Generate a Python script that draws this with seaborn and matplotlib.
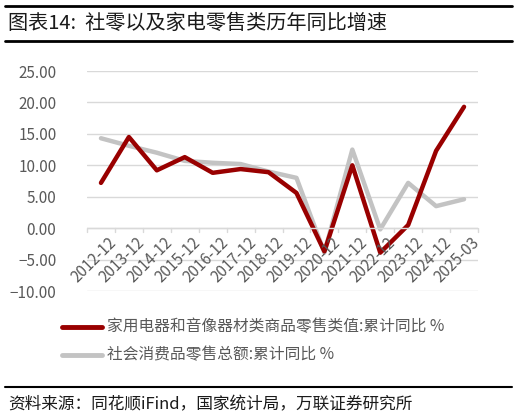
import matplotlib
matplotlib.use("Agg")
import matplotlib.pyplot as plt
import pandas as pd
import seaborn as sns
from matplotlib.lines import Line2D

periods = ["2012-12", "2013-12", "2014-12", "2015-12", "2016-12", "2017-12", "2018-12",
           "2019-12", "2020-12", "2021-12", "2022-12", "2023-12", "2024-12", "2025-03"]
appliance = [7.2, 14.5, 9.2, 11.3, 8.8, 9.4, 8.9, 5.6, -3.7, 10.0, -3.9, 0.5, 12.3, 19.3]
retail_total = [14.3, 13.1, 12.0, 10.7, 10.4, 10.2, 9.0, 8.0, -3.9, 12.5, -0.2, 7.2, 3.5, 4.6]
yticks = [25, 20, 15, 10, 5, 0, -5, -10]

name_a = "家用电器和音像器材类商品零售类值:累计同比 %"
name_b = "社会消费品零售总额:累计同比 %"
red = "#990000"
grey = "#C3C3C3"

sns.set_theme(style="white")
plt.rcParams["font.family"] = ["Noto Sans CJK SC", "DejaVu Sans"]

df = pd.DataFrame({"period": periods, name_a: appliance, name_b: retail_total})
long = df.melt(id_vars="period", var_name="series", value_name="value")

fig = plt.figure(figsize=(5.17, 4.18), dpi=100)
ax = fig.add_axes([87 / 517, 1 - 291 / 418, (478 - 87) / 517, (291 - 71) / 418])

sns.lineplot(data=long, x="period", y="value", hue="series", sort=False,
             palette={name_a: red, name_b: grey}, hue_order=[name_b, name_a],
             linewidth=3.2, legend=False, ax=ax)

ax.set_xlim(-0.5, len(periods) - 0.5)
ax.set_ylim(-10, 25)
ax.set_yticks(yticks)
ax.set_yticklabels([f"{v:.2f}".replace("-", "−") for v in yticks], color="#595959", fontsize=11)
ax.yaxis.grid(True, color="#D9D9D9", linewidth=1)
ax.set_xlabel("")
ax.set_ylabel("")
for s in ax.spines.values():
    s.set_visible(False)
ax.tick_params(axis="y", length=0, pad=22)

# category ticks sit on the zero line, labels rotated
ax.set_xticks(range(len(periods)))
ax.set_xticklabels([])
ax.tick_params(axis="x", length=0)
ax.axhline(0, color="#D9D9D9", linewidth=1)
for i in range(len(periods) + 1):
    ax.plot([i - 0.5, i - 0.5], [0, -0.6], color="#D9D9D9", linewidth=1, clip_on=False)
for i, p in enumerate(periods):
    ax.text(i + 0.25, -0.9, p, rotation=45, ha="right", va="top",
            rotation_mode="anchor", fontsize=11, color="#595959")

# title band
fig.add_artist(Line2D([5 / 517, 512 / 517], [1 - 6 / 418, 1 - 6 / 418], color="black", linewidth=2))
fig.add_artist(Line2D([5 / 517, 512 / 517], [1 - 41 / 418, 1 - 41 / 418], color="black", linewidth=2))
fig.text(8 / 517, 1 - 23 / 418, "图表14:  社零以及家电零售类历年同比增速", fontsize=14.5,
         va="center", ha="left", color="#1a1a1a")

# legend
for y, c, n in [(327, red, name_a), (355, grey, name_b)]:
    fig.add_artist(Line2D([62 / 517, 102 / 517], [1 - y / 418, 1 - y / 418], color=c,
                          linewidth=3.5, solid_capstyle="round"))
    fig.text(107 / 517, 1 - y / 418, n, fontsize=11.3, va="center", ha="left", color="#595959")

# source
fig.add_artist(Line2D([5 / 517, 512 / 517], [1 - 387 / 418, 1 - 387 / 418], color="black", linewidth=1.5))
fig.text(8 / 517, 1 - 405 / 418, "资料来源：同花顺iFind，国家统计局，万联证券研究所", fontsize=12,
         va="center", ha="left", style="italic", color="#1a1a1a")

fig.savefig("out.png", dpi=100)
